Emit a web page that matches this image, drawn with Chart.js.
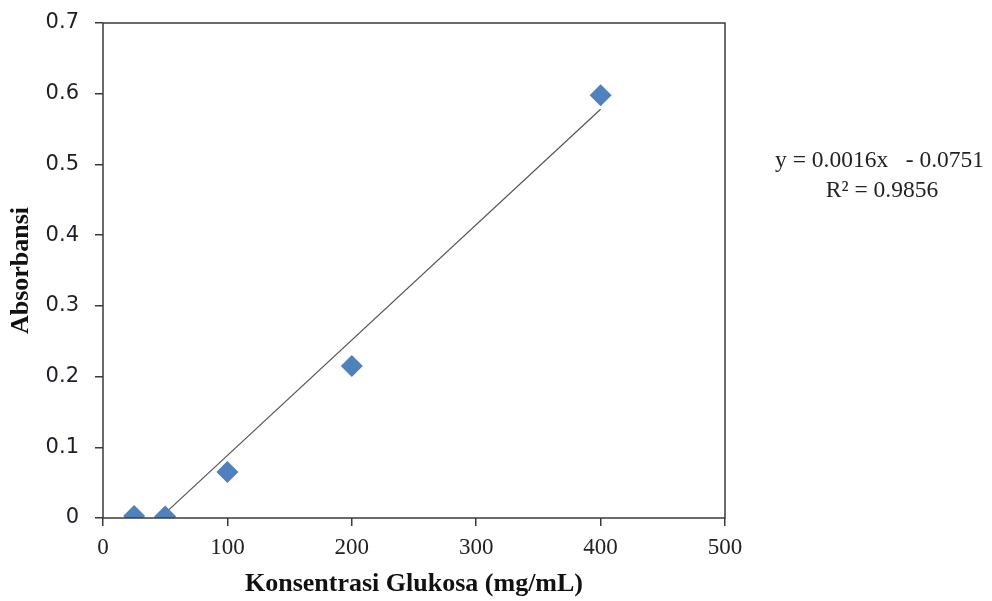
<!DOCTYPE html>
<html>
<head>
<meta charset="utf-8">
<script src="https://cdn.jsdelivr.net/npm/chart.js@4.4.1/dist/chart.umd.min.js"></script>
<style>
  html, body { margin: 0; padding: 0; background: #fff; }
  #wrap { width: 992px; height: 601px; }
</style>
</head>
<body>
<div id="wrap"><canvas id="chart" width="992" height="601"></canvas></div>
<script>
// measured points
const konsentrasi = [25, 50, 100, 200, 400];
const absorbansi = [0.003, 0.002, 0.065, 0.215, 0.598];
// trendline ends
const trendX = [47, 400];
const trendY = [0.002, 0.578];
const xTicks = [0, 100, 200, 300, 400, 500];
const yTicks = [0, 0.1, 0.2, 0.3, 0.4, 0.5, 0.6, 0.7];
const eqText = ['y = 0.0016x   - 0.0751', 'R\u00B2 = 0.9856'];

const frame = {
    id: 'frame',
    afterDatasetsDraw(chart) {
        const a = chart.chartArea;
        const ctx = chart.ctx;
        ctx.save();
        ctx.strokeStyle = '#3a3a3a';
        ctx.lineWidth = 1.5;
        ctx.strokeRect(a.left, a.top, a.right - a.left, a.bottom - a.top);
        ctx.fillStyle = '#222';
        ctx.font = '23.5px "Liberation Serif", serif';
        ctx.textAlign = 'left';
        ctx.textBaseline = 'alphabetic';
        ctx.fillText(eqText[0], 775, 167);
        ctx.textAlign = 'center';
        ctx.fillText(eqText[1], 882, 197);
        ctx.restore();
    }
};

new Chart(document.getElementById('chart'), {
    type: 'scatter',
    data: {
        datasets: [
            {
                label: 'Absorbansi',
                data: konsentrasi.map((x, i) => ({ x: x, y: absorbansi[i] })),
                pointStyle: 'rectRot',
                pointRadius: 11,
                pointHoverRadius: 11,
                backgroundColor: '#4f81bd',
                borderColor: '#4f81bd',
                borderWidth: 0,
                order: 1
            },
            {
                label: 'Linear',
                type: 'line',
                data: trendX.map((x, i) => ({ x: x, y: trendY[i] })),
                borderColor: '#555',
                borderWidth: 1.2,
                pointRadius: 0,
                fill: false,
                order: 2
            }
        ]
    },
    options: {
        responsive: false,
        animation: false,
        layout: { padding: { top: 23, right: 267, left: 0, bottom: 0 } },
        plugins: {
            legend: { display: false },
            tooltip: { enabled: false }
        },
        scales: {
            x: {
                type: 'linear',
                min: 0,
                max: 500,
                afterBuildTicks: s => { s.ticks = xTicks.map(v => ({ value: v })); },
                afterFit: s => { s.height = 83; s.paddingLeft = 0; s.paddingRight = 0; },
                border: { display: false },
                grid: { drawOnChartArea: false, tickLength: 8, color: '#3a3a3a', lineWidth: 1.5 },
                ticks: {
                    color: '#222',
                    padding: 8,
                    font: { family: '"Liberation Serif", serif', size: 23 }
                },
                title: {
                    display: true,
                    text: 'Konsentrasi Glukosa (mg/mL)',
                    color: '#111',
                    padding: { top: 0, bottom: 1 },
                    font: { family: '"Liberation Serif", serif', size: 26, weight: 'bold' }
                }
            },
            y: {
                min: 0,
                max: 0.7,
                afterBuildTicks: s => { s.ticks = yTicks.map(v => ({ value: v })); },
                afterFit: s => { s.width = 103; s.paddingTop = 0; s.paddingBottom = 0; },
                border: { display: false },
                grid: { drawOnChartArea: false, tickLength: 8, color: '#3a3a3a', lineWidth: 1.5 },
                ticks: {
                    color: '#1e1e2a',
                    padding: 16,
                    callback: v => String(v),
                    font: { family: '"DejaVu Sans", sans-serif', size: 21 }
                },
                title: {
                    display: true,
                    text: 'Absorbansi',
                    color: '#111',
                    padding: { top: 6, bottom: 0 },
                    font: { family: '"Liberation Serif", serif', size: 26, weight: 'bold' }
                }
            }
        }
    },
    plugins: [frame]
});
</script>
</body>
</html>
